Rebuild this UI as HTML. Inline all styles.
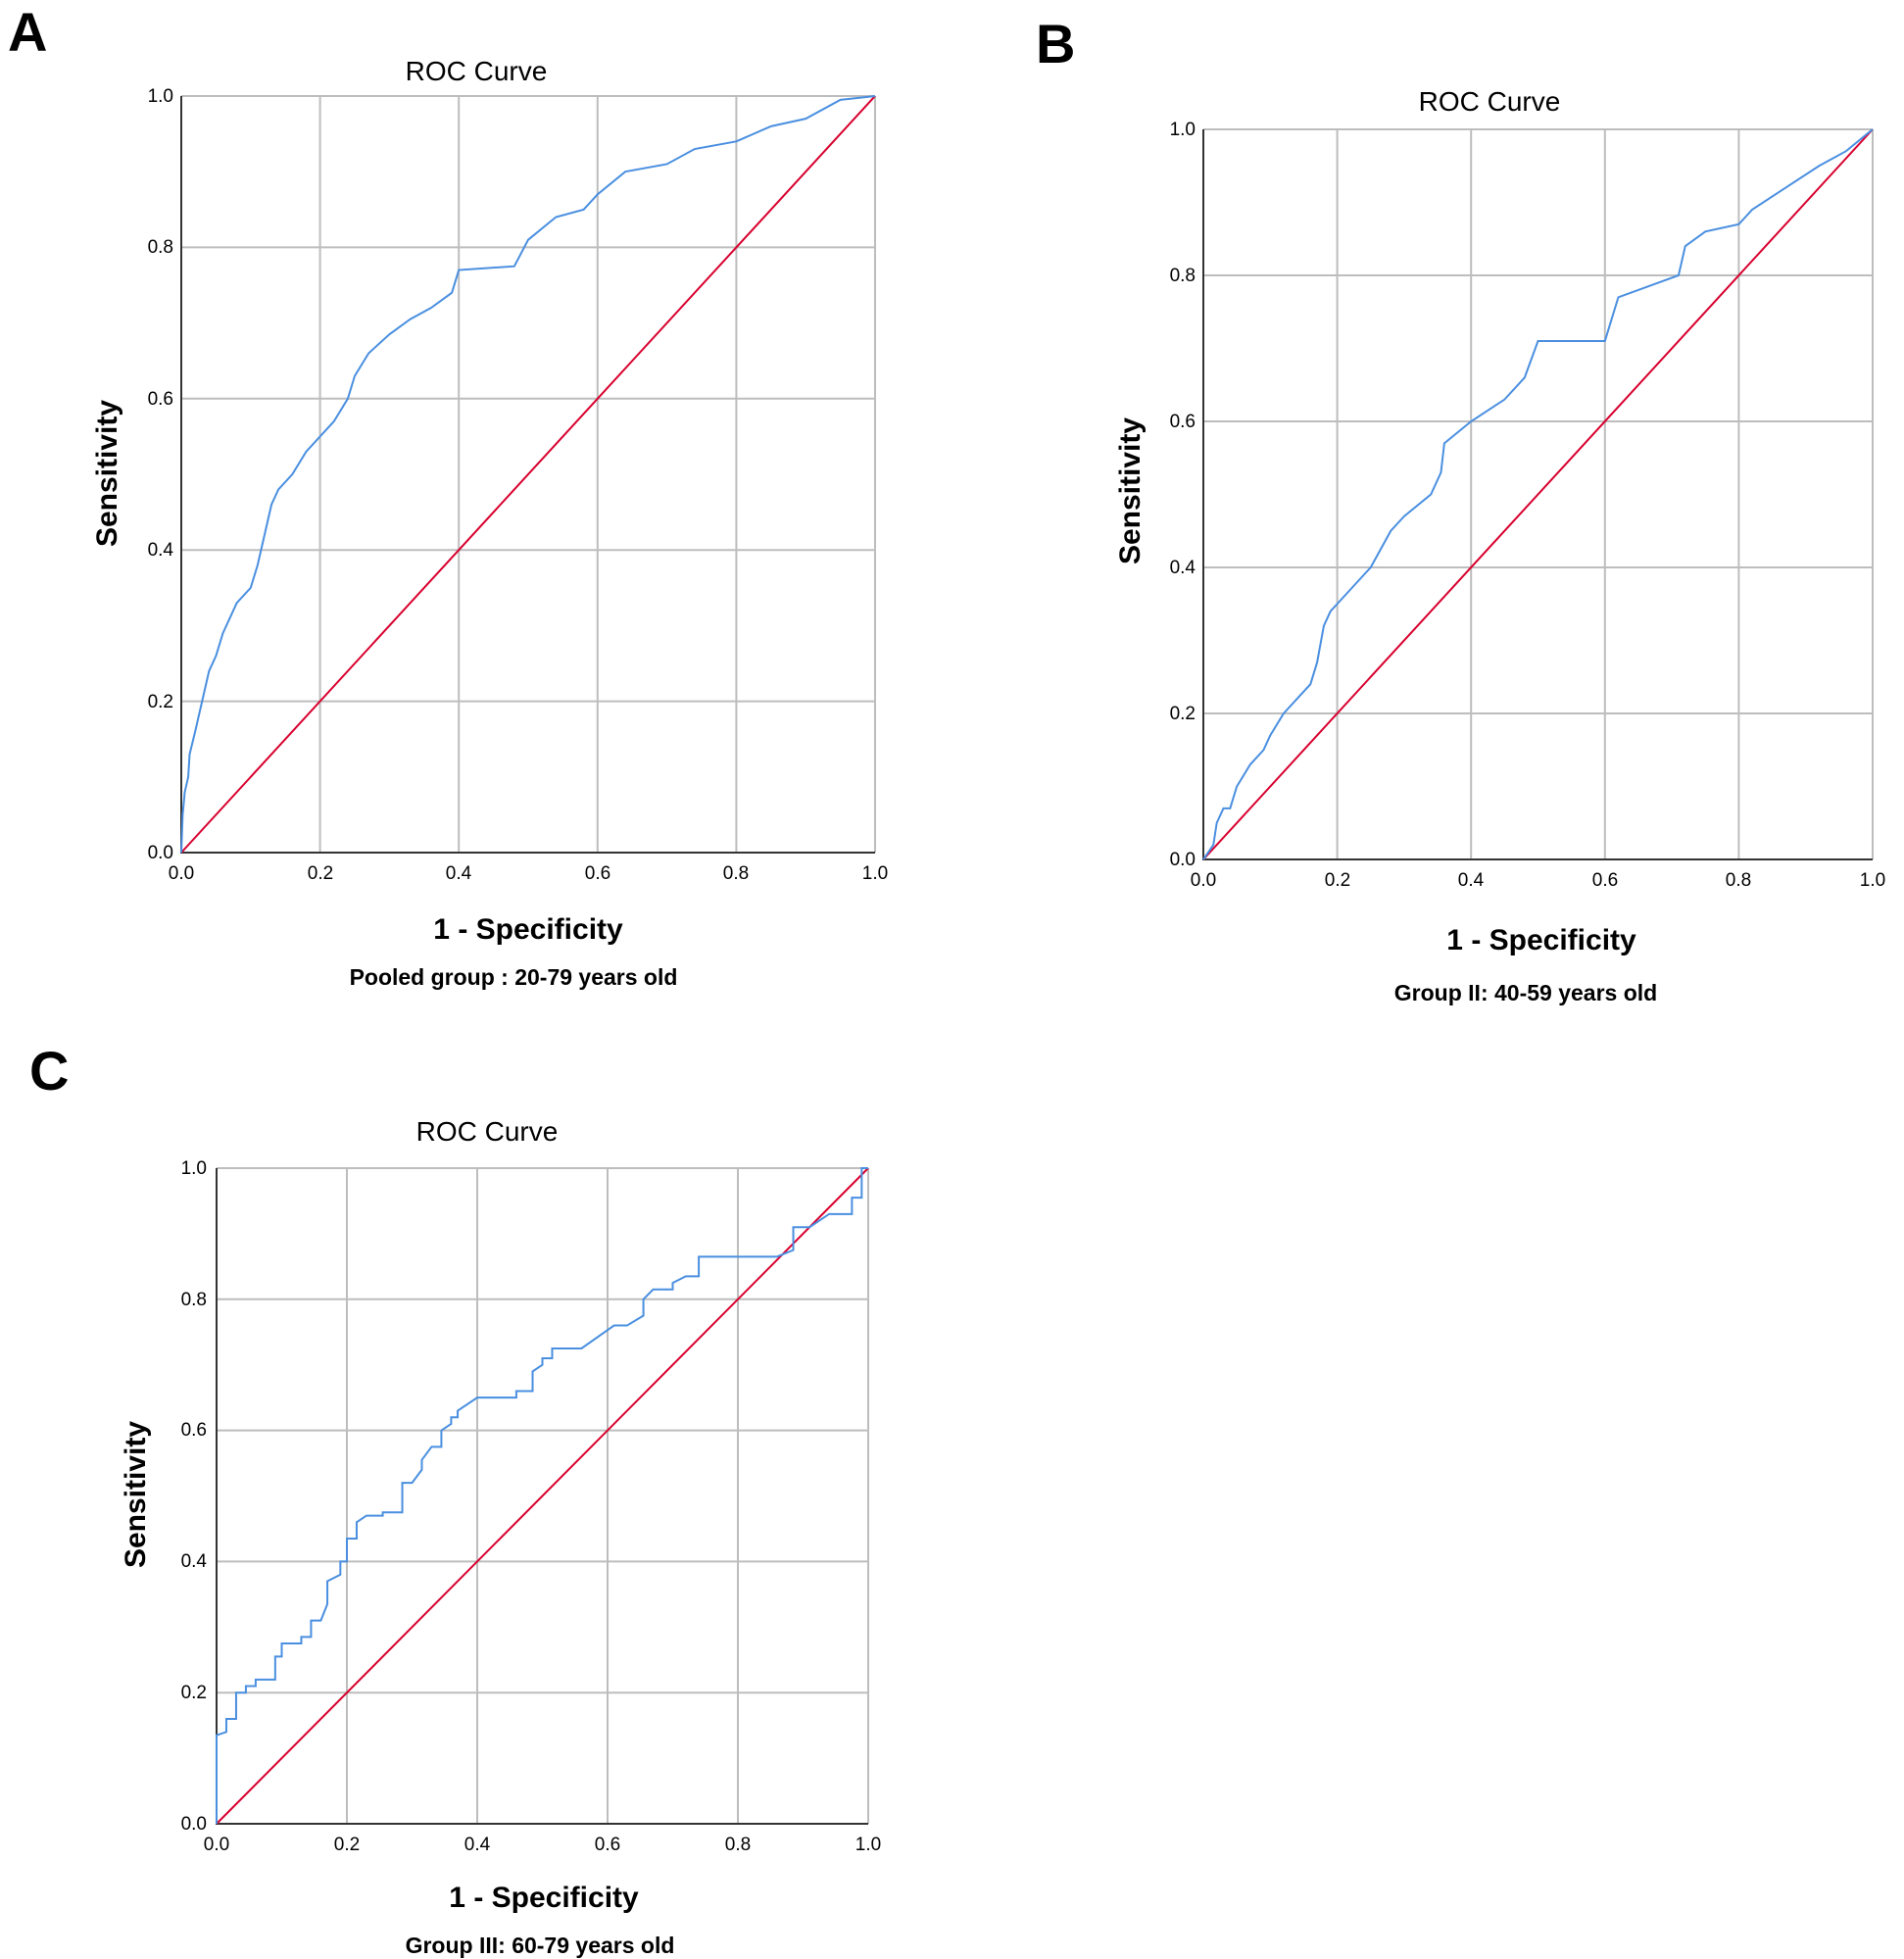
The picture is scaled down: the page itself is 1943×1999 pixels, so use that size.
<!DOCTYPE html>
<html><head><meta charset="utf-8"><style>
html,body{margin:0;padding:0;background:#fff;}
svg{display:block;}
text{font-family:"Liberation Sans",Arial,sans-serif;fill:#000;}
.t{font-size:19px;}
.ti{font-size:28px;}
.ax{font-size:30px;font-weight:bold;}
.sub{font-size:23px;font-weight:bold;}
.pl{font-size:56px;font-weight:bold;}
.g{stroke:#bdbdbd;stroke-width:2;fill:none;vector-effect:non-scaling-stroke;}
.a{stroke:#333;stroke-width:2;fill:none;vector-effect:non-scaling-stroke;}
.b{stroke:#4a8fe0;stroke-width:2;fill:none;vector-effect:non-scaling-stroke;}
.r{stroke:#d8002e;stroke-width:2;fill:none;vector-effect:non-scaling-stroke;}
</style></head><body>
<svg width="1943" height="1999" viewBox="0 0 1943 1999" xmlns="http://www.w3.org/2000/svg">
<!-- Panel A -->
<text class="pl" x="8" y="52">A</text>
<text class="ti" x="486" y="82" text-anchor="middle">ROC Curve</text>
<g transform="translate(185,870) scale(708,-772)">
<path class="g" d="M0.2,0V1M0.4,0V1M0.6,0V1M0.8,0V1M1,0V1M0,0.2H1M0,0.4H1M0,0.6H1M0,0.8H1M0,1H1"/>
<path class="a" d="M0,1V0H1"/>
<polyline class="r" points="0,0 1,1"/>
<polyline class="b" points="0,0 0.002,0.05 0.005,0.08 0.01,0.1 0.012,0.13 0.02,0.16 0.03,0.2 0.04,0.24 0.05,0.26 0.06,0.29 0.07,0.31 0.08,0.33 0.1,0.35 0.11,0.38 0.12,0.42 0.13,0.46 0.14,0.48 0.16,0.5 0.18,0.53 0.2,0.55 0.22,0.57 0.24,0.6 0.25,0.63 0.27,0.66 0.3,0.685 0.33,0.705 0.36,0.72 0.39,0.74 0.4,0.77 0.48,0.775 0.5,0.81 0.54,0.84 0.58,0.85 0.6,0.87 0.64,0.9 0.7,0.91 0.74,0.93 0.8,0.94 0.85,0.96 0.9,0.97 0.95,0.995 1,1"/>
</g>
<g class="t" text-anchor="end">
<text x="177" y="876">0.0</text><text x="177" y="722">0.2</text><text x="177" y="567">0.4</text><text x="177" y="413">0.6</text><text x="177" y="258">0.8</text><text x="177" y="104">1.0</text>
</g>
<g class="t" text-anchor="middle">
<text x="185" y="897">0.0</text><text x="327" y="897">0.2</text><text x="468" y="897">0.4</text><text x="610" y="897">0.6</text><text x="751" y="897">0.8</text><text x="893" y="897">1.0</text>
</g>
<text class="ax" x="539" y="958" text-anchor="middle">1 - Specificity</text>
<text class="sub" x="524" y="1005" text-anchor="middle">Pooled group : 20-79 years old</text>
<text class="ax" transform="translate(119,483) rotate(-90)" text-anchor="middle">Sensitivity</text>

<!-- Panel B -->
<text class="pl" x="1057" y="64">B</text>
<text class="ti" x="1520" y="113" text-anchor="middle">ROC Curve</text>
<g transform="translate(1228,877) scale(683,-745)">
<path class="g" d="M0.2,0V1M0.4,0V1M0.6,0V1M0.8,0V1M1,0V1M0,0.2H1M0,0.4H1M0,0.6H1M0,0.8H1M0,1H1"/>
<path class="a" d="M0,1V0H1"/>
<polyline class="r" points="0,0 1,1"/>
<polyline class="b" points="0,0 0.015,0.02 0.02,0.05 0.03,0.07 0.04,0.07 0.05,0.1 0.07,0.13 0.09,0.15 0.1,0.17 0.12,0.2 0.14,0.22 0.16,0.24 0.17,0.27 0.18,0.32 0.19,0.34 0.2,0.35 0.25,0.4 0.28,0.45 0.3,0.47 0.34,0.5 0.355,0.53 0.36,0.57 0.4,0.6 0.45,0.63 0.48,0.66 0.5,0.71 0.6,0.71 0.62,0.77 0.68,0.79 0.71,0.8 0.72,0.84 0.75,0.86 0.8,0.87 0.82,0.89 0.87,0.92 0.92,0.95 0.96,0.97 1,1"/>
</g>
<g class="t" text-anchor="end">
<text x="1220" y="883">0.0</text><text x="1220" y="734">0.2</text><text x="1220" y="585">0.4</text><text x="1220" y="436">0.6</text><text x="1220" y="287">0.8</text><text x="1220" y="138">1.0</text>
</g>
<g class="t" text-anchor="middle">
<text x="1228" y="904">0.0</text><text x="1365" y="904">0.2</text><text x="1501" y="904">0.4</text><text x="1638" y="904">0.6</text><text x="1774" y="904">0.8</text><text x="1911" y="904">1.0</text>
</g>
<text class="ax" x="1573" y="969" text-anchor="middle">1 - Specificity</text>
<text class="sub" x="1557" y="1021" text-anchor="middle">Group II: 40-59 years old</text>
<text class="ax" transform="translate(1163,501) rotate(-90)" text-anchor="middle">Sensitivity</text>

<!-- Panel C -->
<text class="pl" x="30" y="1112">C</text>
<text class="ti" x="497" y="1164" text-anchor="middle">ROC Curve</text>
<g transform="translate(221,1861) scale(665,-669)">
<path class="g" d="M0.2,0V1M0.4,0V1M0.6,0V1M0.8,0V1M1,0V1M0,0.2H1M0,0.4H1M0,0.6H1M0,0.8H1M0,1H1"/>
<path class="a" d="M0,1V0H1"/>
<polyline class="r" points="0,0 1,1"/>
<polyline class="b" points="0,0 0,0.135 0.015,0.14 0.015,0.16 0.03,0.16 0.03,0.2 0.045,0.2 0.045,0.21 0.06,0.21 0.06,0.22 0.09,0.22 0.09,0.255 0.1,0.255 0.1,0.275 0.13,0.275 0.13,0.285 0.145,0.285 0.145,0.31 0.16,0.31 0.17,0.335 0.17,0.37 0.19,0.38 0.19,0.4 0.2,0.4 0.2,0.435 0.215,0.435 0.215,0.46 0.23,0.47 0.255,0.47 0.255,0.475 0.285,0.475 0.285,0.52 0.3,0.52 0.315,0.54 0.315,0.555 0.33,0.575 0.345,0.575 0.345,0.6 0.36,0.61 0.36,0.62 0.37,0.62 0.37,0.63 0.4,0.65 0.46,0.65 0.46,0.66 0.485,0.66 0.485,0.69 0.5,0.7 0.5,0.71 0.515,0.71 0.515,0.725 0.56,0.725 0.61,0.76 0.63,0.76 0.655,0.775 0.655,0.8 0.67,0.815 0.7,0.815 0.7,0.825 0.72,0.835 0.74,0.835 0.74,0.865 0.86,0.865 0.885,0.875 0.885,0.91 0.91,0.91 0.94,0.93 0.975,0.93 0.975,0.955 0.99,0.955 0.99,1 1,1"/>
</g>
<g class="t" text-anchor="end">
<text x="211" y="1867">0.0</text><text x="211" y="1733">0.2</text><text x="211" y="1599">0.4</text><text x="211" y="1465">0.6</text><text x="211" y="1332">0.8</text><text x="211" y="1198">1.0</text>
</g>
<g class="t" text-anchor="middle">
<text x="221" y="1888">0.0</text><text x="354" y="1888">0.2</text><text x="487" y="1888">0.4</text><text x="620" y="1888">0.6</text><text x="753" y="1888">0.8</text><text x="886" y="1888">1.0</text>
</g>
<text class="ax" x="555" y="1946" text-anchor="middle">1 - Specificity</text>
<text class="sub" x="551" y="1993" text-anchor="middle">Group III: 60-79 years old</text>
<text class="ax" transform="translate(148,1525) rotate(-90)" text-anchor="middle">Sensitivity</text>
</svg>
</body></html>
